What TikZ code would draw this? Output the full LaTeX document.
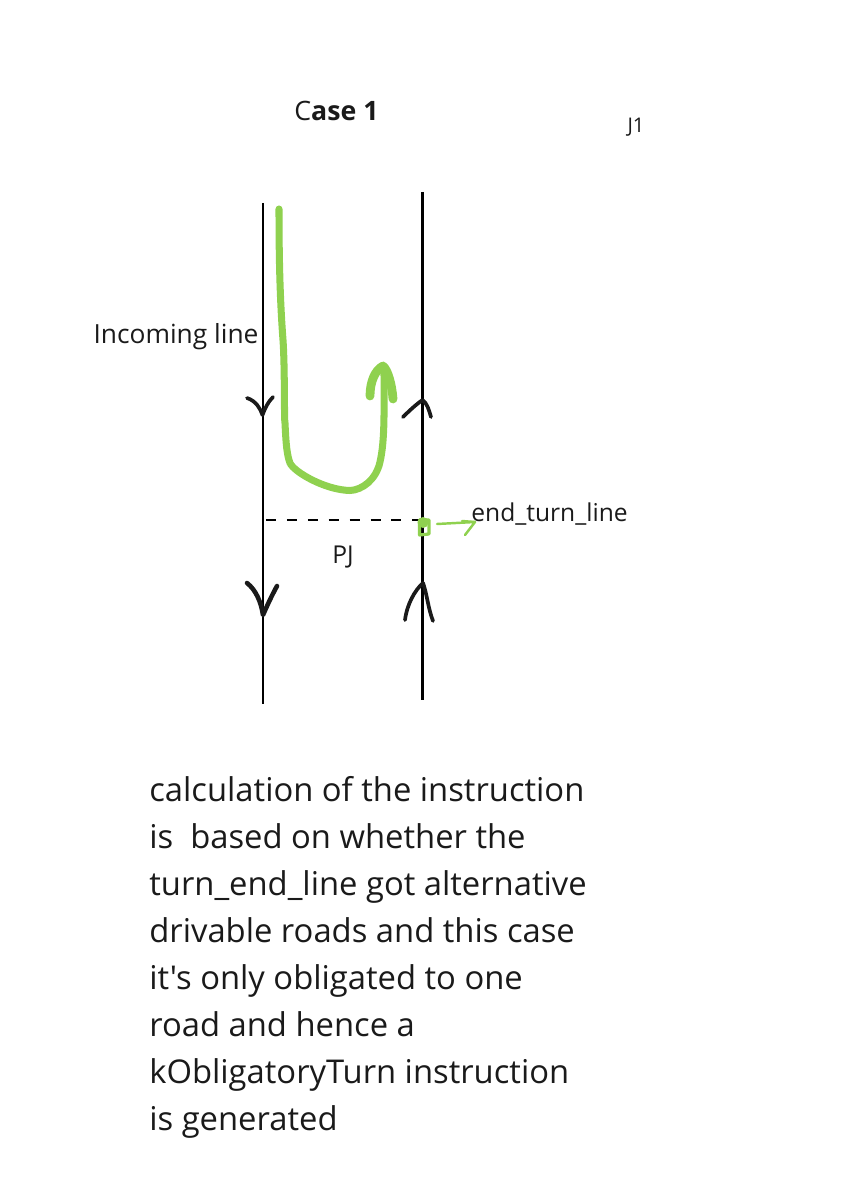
\documentclass[tikz,border=0pt]{standalone}
\usepackage{fontspec}
\setmainfont{Open Sans}
\newfontfamily\plainquote{Open Sans}
\definecolor{turngreen}{HTML}{8FD14F}
\definecolor{inktext}{HTML}{1A1A1A}
\tikzset{
  road/.style={line width=1.45pt, black},
  sketch/.style={line width=2.1pt, inktext, line cap=round, line join=round},
  turn/.style={turngreen, line cap=round, line join=round},
  label/.style={inktext, inner sep=0pt, font=\fontsize{15}{18}\selectfont}
}
\begin{document}
\begin{tikzpicture}[x=0.02cm, y=-0.02cm]
    \useasboundingbox (0,0) rectangle (845,1182);

    % Define node positions
    \node[label, font=\fontsize{15.2}{18}\selectfont] (title) at (336.5,111) {C\textbf{ase 1}};
    \node[label, font=\fontsize{11.5}{14}\selectfont] (junction) at (636,127.5) {J1};
    \node[label] (incoming) at (176,336.5) {Incoming line};
    \node[label, font=\fontsize{14}{16}\selectfont] (pj) at (343,557) {PJ};
    \node[label, font=\fontsize{14}{16}\selectfont] (endturn) at (549.5,514) {end\_turn\_line};
    \coordinate (ltop) at (263,203);
    \coordinate (lbot) at (263,704);
    \coordinate (rtop) at (422.5,192);
    \coordinate (rbot) at (422.5,700);
    \coordinate (dashl) at (266,520);
    \coordinate (dashr) at (422,520);

    % Draw roads
    \draw[road] (ltop) -- (lbot);
    \draw[road] (rtop) -- (rbot);
    \draw[line width=1.7pt, black, dash pattern=on 5.7pt off 6.2pt] (dashl) -- (dashr);

    % Draw arrows
    \draw[sketch] (247,398) .. controls (256,401) and (260,408) .. (262.5,415) .. controls (265,408) and (268,402) .. (273,397);
    \draw[sketch] (403,417) .. controls (411,409) and (418,403) .. (422.5,400) .. controls (427,403) and (429,410) .. (431,417);
    \draw[sketch, line width=2.6pt] (247,583) .. controls (256,590) and (261,602) .. (263,615) .. controls (267,606) and (271,597) .. (277,586);
    \draw[sketch] (405,620) .. controls (407,604) and (415,590) .. (423,583) .. controls (427,594) and (428,608) .. (433,621);

    % Green turn
    \draw[turn, line width=4pt] (279,209) .. controls (279,260) and (280,300) .. (283,340)
      .. controls (285,370) and (284,420) .. (285,423)
      .. controls (286,445) and (287,455) .. (290,463)
      .. controls (294,472) and (325,490) .. (350,490.5)
      .. controls (362,490) and (376,480) .. (380,462)
      .. controls (385,440) and (384,410) .. (384,370);
    \draw[turn, line width=5pt] (370,396) .. controls (370,382) and (375,370) .. (383,366) .. controls (388,370) and (392,385) .. (393,399);
    \draw[turn, line width=1.8pt] (419.5,526) -- (419.5,520) -- (429,520) -- (429,534) -- (419.5,535) -- cycle;
    \fill[turn] (423,522.5) circle (5.5);
    \draw[turn, line width=1.4pt] (437,524) -- (475,522) -- (465,535);
    \draw[turn, line width=1.4pt] (462,521) -- (475,522);

    % Description
    \node[inktext, inner sep=0pt, anchor=north west, align=left, font=\fontsize{18.65}{26.7}\selectfont] (desc) at (149,776.5) {calculation of the instruction\\
      is \ based on whether the\\
      turn\_end\_line got alternative\\
      drivable roads and this case\\
      {\plainquote it's} only obligated to one\\
      road and hence a\\
      kObligatoryTurn instruction\\
      is generated};
\end{tikzpicture}
\end{document}
